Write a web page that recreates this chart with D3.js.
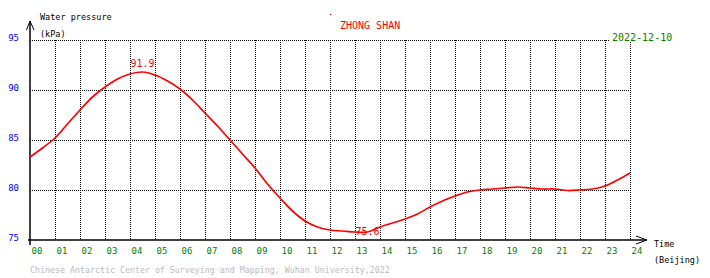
<!DOCTYPE html>
<html><head><meta charset="utf-8">
<script src="https://cdn.jsdelivr.net/npm/d3@7"></script>
<style>html,body{margin:0;padding:0;background:#fff}svg{display:block}</style>
</head><body><div id="chart"></div>
<script>
const hours = [0,0.5,1,1.5,2,2.5,3,3.5,4,4.5,5,5.5,6,6.5,7,7.5,8,8.5,9,9.5,10,10.5,11,11.5,12,12.5,13,13.5,14,14.5,15,15.5,16,16.5,17,17.5,18,18.5,19,19.5,20,20.5,21,21.5,22,22.5,23,23.5,24];
const pressure = [83.3,84.2,85.2,86.6,88.0,89.3,90.3,91.1,91.6,91.8,91.5,90.9,90.1,89.0,87.7,86.4,85.0,83.6,82.2,80.6,79.2,77.9,76.9,76.3,76.0,75.9,75.8,75.8,76.3,76.7,77.1,77.6,78.3,78.9,79.4,79.8,80.0,80.1,80.2,80.3,80.2,80.1,80.1,79.95,80.0,80.1,80.4,81.0,81.7];
const xTicks = d3.range(0,25);
const xTickLabels = xTicks.map(h => String(h).padStart(2,"0"));
const yTicks = [75,80,85,90,95];
const yTickLabels = ["75","80","85","90","95"];
const maxLabel = {hour:4.5, value:91.9, text:"91.9"};
const minLabel = {hour:13.5, value:75.6, text:"75.6"};
const title = "ZHONG SHAN";
const dateText = "2022-12-10";
const footer = "Chinese Antarctic Center of Surveying and Mapping, Wuhan University,2022";

const W=710,H=278;
const svg=d3.select("#chart").append("svg").attr("width",W).attr("height",H);
const x=d3.scaleLinear().domain([0,24]).range([30,630]);
const y=d3.scaleLinear().domain([75,95]).range([240,40]);
const mono="'DejaVu Sans Mono', monospace";

// grid
const g=svg.append("g").attr("stroke","#000").attr("stroke-width",1).attr("stroke-dasharray","1,1");
g.selectAll("line.v").data(xTicks.slice(1)).enter().append("line")
  .attr("x1",d=>x(d)+0.5).attr("x2",d=>x(d)+0.5).attr("y1",y(95)).attr("y2",y(75));
g.selectAll("line.h").data([80,85,90,95]).enter().append("line")
  .attr("x1",x(0)).attr("x2",x(24)).attr("y1",d=>y(d)+0.5).attr("y2",d=>y(d)+0.5);

// axes lines
const ax=svg.append("g").attr("stroke","#000").attr("stroke-width",1.5).attr("fill","none");
ax.append("line").attr("x1",x(0)).attr("x2",x(0)).attr("y1",21).attr("y2",245);
ax.append("line").attr("x1",28).attr("x2",647).attr("y1",y(75)).attr("y2",y(75));
ax.append("path").attr("stroke-width",1).attr("d",`M26.5,30L${x(0)},21L34,30`);
ax.append("path").attr("stroke-width",1).attr("d",`M636,236L647,${y(75)}L636,244`);

// axis labels with d3 axes
const xa=svg.append("g").attr("transform",`translate(0,${y(75)})`)
  .call(d3.axisBottom(x).tickValues(xTicks).tickSize(0).tickPadding(8).tickFormat((d,i)=>xTickLabels[i]));
xa.select(".domain").remove();
xa.selectAll("text").attr("fill","#008000").attr("font-family",mono).attr("font-size","9px")
  .attr("text-anchor","start").attr("dx","1");
const ya=svg.append("g").attr("transform",`translate(20,0)`)
  .call(d3.axisLeft(y).tickValues(yTicks).tickSize(0).tickPadding(1).tickFormat((d,i)=>yTickLabels[i]));
ya.select(".domain").remove();
ya.selectAll("text").attr("fill","#0000ff").attr("font-family",mono).attr("font-size","9px").attr("dy","0.1em");

// line
const line=d3.line().x((d,i)=>x(hours[i])).y(d=>y(d)).curve(d3.curveCatmullRom);
svg.append("path").datum(pressure).attr("d",line).attr("fill","none").attr("stroke","#ff0000").attr("stroke-width",1.7);

// labels
svg.append("text").attr("x",x(maxLabel.hour)).attr("y",y(maxLabel.value)-4).attr("text-anchor","middle")
  .attr("fill","#ff0000").attr("font-family",mono).attr("font-size","10px").text(maxLabel.text);
svg.append("text").attr("x",x(minLabel.hour)).attr("y",y(minLabel.value)+0.5).attr("text-anchor","middle")
  .attr("fill","#ff0000").attr("font-family",mono).attr("font-size","10px").text(minLabel.text);

svg.append("text").attr("x",340).attr("y",29).attr("fill","#ff0000").attr("font-family",mono).attr("font-size","10px").text(title);
svg.append("rect").attr("x",610).attr("y",31).attr("width",64).attr("height",10).attr("fill","#fff");
svg.append("text").attr("x",612).attr("y",41).attr("fill","#008000").attr("font-family",mono).attr("font-size","10px").text(dateText);
svg.append("rect").attr("x",330).attr("y",14).attr("width",1).attr("height",1).attr("fill","#ff0000");

svg.append("text").attr("x",40).attr("y",20).attr("fill","#000").attr("font-family",mono).attr("font-size","8.5px").text("Water pressure");
svg.append("text").attr("x",40).attr("y",37).attr("fill","#000").attr("font-family",mono).attr("font-size","8.5px").text("(kPa)");
svg.append("text").attr("x",654).attr("y",247).attr("fill","#000").attr("font-family",mono).attr("font-size","8.5px").text("Time");
svg.append("text").attr("x",654).attr("y",263).attr("fill","#000").attr("font-family",mono).attr("font-size","8.5px").text("(Beijing)");
svg.append("text").attr("x",30).attr("y",273).attr("fill","#bbbbbb").attr("font-family",mono).attr("font-size","8.3px").text(footer);
</script></body></html>
